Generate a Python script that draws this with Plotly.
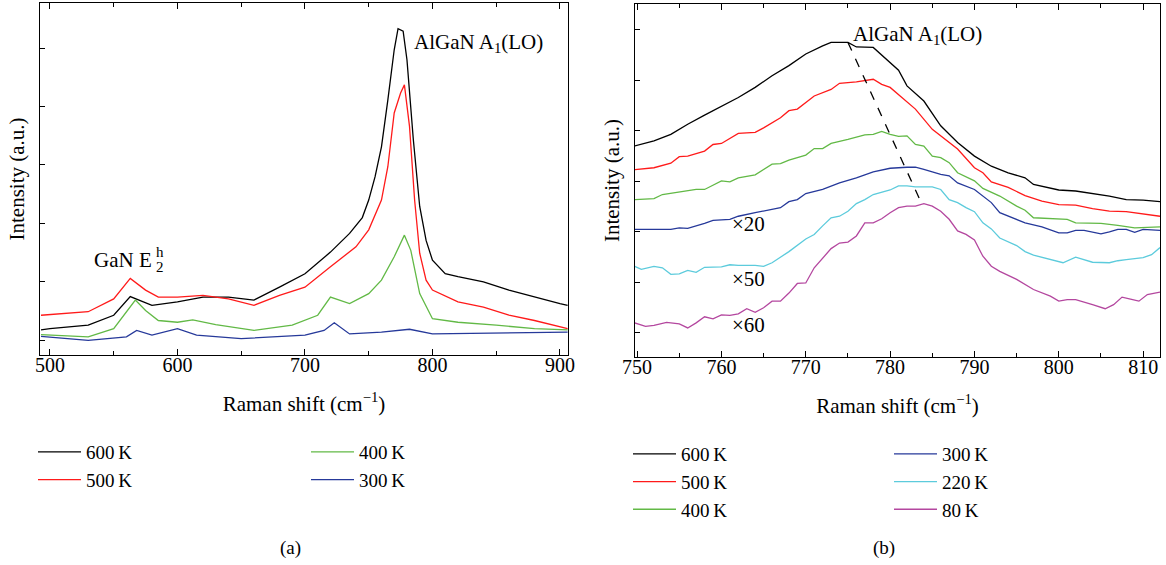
import plotly.graph_objects as go

# ---------------- Panel (a) data ----------------
a_x_600 = [493, 500, 530, 550, 563, 570, 580, 600, 620, 640, 660, 680, 700, 720, 735, 745, 750, 755, 760, 765, 770, 773, 777, 780, 785, 790, 795, 800, 810, 820, 840, 860, 880, 900, 906]
a_y_600 = [0.18, 0.2, 0.26, 0.43, 0.75, 0.69, 0.6, 0.66, 0.74, 0.74, 0.69, 0.91, 1.14, 1.51, 1.83, 2.1, 2.4, 2.8, 3.31, 4.11, 4.97, 5.33, 5.29, 4.8, 3.43, 2.29, 1.71, 1.37, 1.14, 1.09, 1.0, 0.86, 0.74, 0.63, 0.6]

a_x_500 = [493, 530, 550, 563, 575, 585, 600, 620, 640, 660, 680, 700, 720, 740, 750, 760, 765, 770, 775, 778, 782, 786, 790, 795, 800, 820, 840, 860, 880, 900, 906]
a_y_500 = [0.43, 0.49, 0.71, 1.06, 0.86, 0.74, 0.74, 0.77, 0.71, 0.6, 0.77, 0.91, 1.26, 1.6, 1.89, 2.4, 2.97, 3.89, 4.23, 4.37, 3.66, 2.4, 1.49, 1.03, 0.86, 0.66, 0.57, 0.43, 0.34, 0.23, 0.2]

a_x_400 = [493, 530, 550, 567, 575, 585, 600, 612, 630, 660, 690, 710, 720, 727, 735, 750, 760, 770, 778, 783, 790, 800, 820, 850, 880, 906]
a_y_400 = [0.1, 0.06, 0.2, 0.69, 0.51, 0.34, 0.31, 0.35, 0.27, 0.17, 0.26, 0.43, 0.74, 0.69, 0.63, 0.8, 1.03, 1.43, 1.8, 1.54, 0.8, 0.37, 0.31, 0.26, 0.2, 0.18]

a_x_300 = [493, 530, 560, 568, 580, 600, 615, 650, 700, 715, 723, 735, 760, 782, 800, 850, 906]
a_y_300 = [0.07, 0.0, 0.06, 0.17, 0.09, 0.2, 0.09, 0.03, 0.09, 0.17, 0.3, 0.11, 0.14, 0.19, 0.11, 0.13, 0.14]

# ---------------- Panel (b) data ----------------
b_x_600 = [749.7, 752, 754, 756, 758, 760, 762, 764, 766, 768, 770, 772, 773, 775, 776, 778, 780, 781, 782, 784, 786, 788, 790, 792, 794, 796, 797, 800, 802, 804, 806, 808, 810, 812]
b_y_600 = [3.70, 3.80, 3.93, 4.13, 4.31, 4.49, 4.66, 4.86, 5.09, 5.29, 5.52, 5.68, 5.75, 5.75, 5.66, 5.65, 5.35, 5.2, 4.89, 4.59, 4.1, 3.77, 3.5, 3.3, 3.17, 3.07, 2.94, 2.83, 2.81, 2.76, 2.71, 2.64, 2.63, 2.6]

b_x_500 = [749.7, 752, 754, 755, 756, 758, 759, 760, 762, 764, 765, 767, 768, 769, 771, 773, 774, 776, 778, 779, 780, 782, 783, 785, 788, 790, 791, 792, 794, 796, 798, 800, 802, 804, 806, 808, 810, 812]
b_y_500 = [3.23, 3.27, 3.36, 3.49, 3.5, 3.6, 3.73, 3.75, 3.95, 3.97, 4.06, 4.26, 4.4, 4.43, 4.69, 4.82, 4.94, 4.97, 5.02, 4.92, 4.86, 4.56, 4.43, 4.03, 3.64, 3.27, 3.17, 2.99, 2.88, 2.72, 2.61, 2.54, 2.53, 2.46, 2.41, 2.40, 2.35, 2.31]

b_x_400 = [749.7, 752, 753, 755, 757, 758, 760, 761, 762, 764, 765, 766, 767, 768, 770, 771, 772, 773, 775, 777, 778, 779, 780, 781, 782, 783, 784, 785, 786, 787, 788, 790, 791, 793, 795, 796, 797, 799, 801, 802, 805, 807, 809, 812]
b_y_400 = [2.64, 2.66, 2.74, 2.79, 2.84, 2.84, 3.01, 2.99, 3.07, 3.13, 3.24, 3.34, 3.35, 3.42, 3.52, 3.65, 3.65, 3.75, 3.83, 3.92, 3.93, 3.99, 3.93, 3.89, 3.9, 3.73, 3.7, 3.5, 3.47, 3.37, 3.17, 3.01, 2.86, 2.71, 2.51, 2.43, 2.28, 2.27, 2.25, 2.18, 2.17, 2.13, 2.08, 2.1]

b_x_300 = [749.7, 754, 755, 756, 758, 759, 761, 762, 764, 766, 767, 768, 769, 770, 772, 774, 776, 778, 780, 782, 783, 784, 786, 787, 788, 790, 792, 793, 794, 796, 798, 800, 801, 802, 803, 805, 806, 807, 808, 809, 810, 812]
b_y_300 = [2.05, 2.05, 2.08, 2.07, 2.17, 2.23, 2.25, 2.31, 2.38, 2.45, 2.48, 2.6, 2.64, 2.76, 2.84, 2.97, 3.07, 3.19, 3.26, 3.28, 3.28, 3.24, 3.14, 3.11, 2.97, 2.84, 2.58, 2.38, 2.31, 2.18, 2.1, 1.98, 1.98, 2.03, 2.03, 1.96, 2.0, 2.05, 2.05, 1.99, 2.05, 2.03]

b_x_220 = [749.7, 750.5, 752, 753, 754, 755, 756, 757, 758, 760, 761, 762, 764, 765, 766, 768, 770, 771, 772, 773, 774, 775, 776, 777, 778, 779, 780, 781, 782, 783, 785, 786, 787, 788, 789, 790, 791, 792, 793, 795, 796, 797, 799, 800.5, 802, 804, 806, 807, 808, 810, 811, 812]
b_y_220 = [1.32, 1.26, 1.32, 1.29, 1.16, 1.17, 1.24, 1.2, 1.3, 1.31, 1.35, 1.34, 1.34, 1.32, 1.39, 1.61, 1.86, 1.95, 2.12, 2.28, 2.31, 2.41, 2.56, 2.64, 2.74, 2.79, 2.83, 2.91, 2.91, 2.89, 2.89, 2.84, 2.64, 2.58, 2.48, 2.4, 2.18, 2.06, 1.88, 1.73, 1.61, 1.54, 1.45, 1.39, 1.5, 1.4, 1.39, 1.43, 1.45, 1.49, 1.55, 1.69]

b_x_80 = [749.7, 751, 752, 753.5, 755, 756, 757, 758, 759, 760, 761, 762, 763, 764, 765, 766, 767, 768, 769, 770, 771, 772, 773, 774, 775, 776, 777, 778, 779, 780, 781, 782, 783, 784, 785, 786, 787, 788, 789, 790, 791, 792, 793, 795, 797, 799, 800, 801, 802, 804, 805.5, 806.5, 807.5, 808.5, 809.5, 810.5, 812]
b_y_80 = [0.2, 0.13, 0.15, 0.21, 0.18, 0.1, 0.2, 0.32, 0.28, 0.36, 0.35, 0.38, 0.48, 0.41, 0.5, 0.63, 0.63, 0.79, 0.98, 0.99, 1.29, 1.49, 1.67, 1.78, 1.8, 1.92, 2.18, 2.18, 2.26, 2.38, 2.48, 2.51, 2.51, 2.56, 2.51, 2.41, 2.25, 2.02, 1.95, 1.84, 1.52, 1.32, 1.22, 1.06, 0.86, 0.73, 0.63, 0.66, 0.66, 0.56, 0.48, 0.56, 0.71, 0.67, 0.63, 0.76, 0.81]

# dashed guide through the peak maxima
dash_x = [775.0, 783.8]
dash_y = [5.75, 2.54]

a_labels = ["600\u2009K", "500\u2009K", "400\u2009K", "300\u2009K"]
b_labels = ["600\u2009K", "500\u2009K", "400\u2009K", "300\u2009K", "220\u2009K", "80\u2009K"]

COL = {"600": "#000000", "500": "#ff1a1a", "400": "#62b946", "300": "#26399a",
       "220": "#5ccbdc", "80": "#b4479f"}

FONT = "Liberation Serif"
W, H = 1166, 565


def px(x):
    return x / W


def py(y):
    return 1 - y / H


fig = go.Figure()

a_series = [(a_x_600, a_y_600, "600", "legend"), (a_x_500, a_y_500, "500", "legend"),
            (a_x_400, a_y_400, "400", "legend2"), (a_x_300, a_y_300, "300", "legend2")]
for (xs, ys, k, lg), lab in zip(a_series, a_labels):
    fig.add_trace(go.Scatter(x=xs, y=ys, mode="lines", name=lab, legend=lg,
                             line=dict(color=COL[k], width=1.3), xaxis="x", yaxis="y"))

b_series = [(b_x_600, b_y_600, "600", "legend3"), (b_x_500, b_y_500, "500", "legend3"),
            (b_x_400, b_y_400, "400", "legend3"), (b_x_300, b_y_300, "300", "legend4"),
            (b_x_220, b_y_220, "220", "legend4"), (b_x_80, b_y_80, "80", "legend4")]
for (xs, ys, k, lg), lab in zip(b_series, b_labels):
    fig.add_trace(go.Scatter(x=xs, y=ys, mode="lines", name=lab, legend=lg,
                             line=dict(color=COL[k], width=1.3), xaxis="x2", yaxis="y2"))

fig.add_trace(go.Scatter(x=dash_x, y=dash_y, mode="lines", showlegend=False,
                         line=dict(color="#000000", width=1.3, dash="dash"),
                         xaxis="x2", yaxis="y2"))

axis_common = dict(showline=True, linecolor="black", linewidth=1.2, ticks="inside",
                   tickcolor="black", showgrid=False, zeroline=False, automargin=False)

xtitle = dict(text="Raman shift (cm<sup>\u22121</sup>)", font=dict(family=FONT, size=21, color="black"), standoff=21)
ytitle = dict(text="Intensity (a.u.)", font=dict(family=FONT, size=21, color="black"), standoff=8)

fig.update_layout(
    width=W, height=H,
    margin=dict(l=0, r=0, t=0, b=0),
    paper_bgcolor="white", plot_bgcolor="white",
    font=dict(family=FONT, size=19, color="black"),
    xaxis=dict(domain=[px(40), px(568)], range=[492.2, 906.3], anchor="y",
               tickmode="linear", tick0=500, dtick=100, ticklen=6, mirror="ticks",
               ticklabelstandoff=-8,
               minor=dict(ticks="inside", tick0=500, dtick=50, ticklen=4, tickcolor="black"),
               tickfont=dict(family=FONT, size=20), title=xtitle, **axis_common),
    yaxis=dict(domain=[py(355), py(3)], range=[-0.25, 5.77], anchor="x",
               tickmode="linear", tick0=0, dtick=1, ticklen=5, mirror=True,
               showticklabels=False, title=ytitle, **axis_common),
    xaxis2=dict(domain=[px(635), px(1160)], range=[749.75, 812.0], anchor="y2",
                tickmode="linear", tick0=750, dtick=10, ticklen=6, mirror="ticks",
                ticklabelstandoff=-8,
                minor=dict(ticks="inside", tick0=750, dtick=5, ticklen=4, tickcolor="black"),
                tickfont=dict(family=FONT, size=20), title=xtitle, **axis_common),
    yaxis2=dict(domain=[py(357), py(4)], range=[-0.475, 6.51], anchor="x2",
                tickmode="linear", tick0=0, dtick=1, ticklen=5, mirror=True,
                showticklabels=False, title=ytitle, **axis_common),
)

leg_common = dict(orientation="v", xanchor="left", yanchor="top", bgcolor="rgba(0,0,0,0)",
                  font=dict(family=FONT, size=19, color="black"), itemwidth=43,
                  tracegroupgap=0, itemclick=False, itemdoubleclick=False)
fig.update_layout(
    legend=dict(x=px(33), y=py(433), **leg_common),
    legend2=dict(x=px(306), y=py(433), **leg_common),
    legend3=dict(x=px(628), y=py(435), **leg_common),
    legend4=dict(x=px(889), y=py(435), **leg_common),
)

ann_font = dict(family=FONT, size=21, color="black")
annotations = [
    dict(x=836, y=5.09, xref="x", yref="y", text="AlGaN A<sub>1</sub>(LO)", showarrow=False, font=ann_font),
    dict(x=581.5, y=1.38, xref="x", yref="y", text="GaN E", showarrow=False, font=ann_font, xanchor="right"),
    dict(x=581.8, y=1.38, xref="x", yref="y", text="h", showarrow=False, yshift=8, xanchor="left",
         font=dict(family=FONT, size=15, color="black")),
    dict(x=581.8, y=1.38, xref="x", yref="y", text="2", showarrow=False, yshift=-7, xanchor="left",
         font=dict(family=FONT, size=15, color="black")),
    dict(x=783.2, y=5.9, xref="x2", yref="y2", text="AlGaN A<sub>1</sub>(LO)", showarrow=False, font=ann_font),
    dict(x=763.2, y=2.15, xref="x2", yref="y2", text="\u00d720", showarrow=False, font=ann_font),
    dict(x=763.2, y=1.06, xref="x2", yref="y2", text="\u00d750", showarrow=False, font=ann_font),
    dict(x=763.2, y=0.15, xref="x2", yref="y2", text="\u00d760", showarrow=False, font=ann_font),
    dict(x=px(290), y=py(548), xref="paper", yref="paper", text="(a)", showarrow=False,
         xanchor="center", yanchor="middle", font=dict(family=FONT, size=19, color="black")),
    dict(x=px(884), y=py(548), xref="paper", yref="paper", text="(b)", showarrow=False,
         xanchor="center", yanchor="middle", font=dict(family=FONT, size=19, color="black")),
]
fig.update_layout(annotations=annotations)

fig.write_html("out.html", config={"displayModeBar": False, "staticPlot": True},
               post_script="document.body.style.margin='0';document.body.style.overflow='hidden';")
